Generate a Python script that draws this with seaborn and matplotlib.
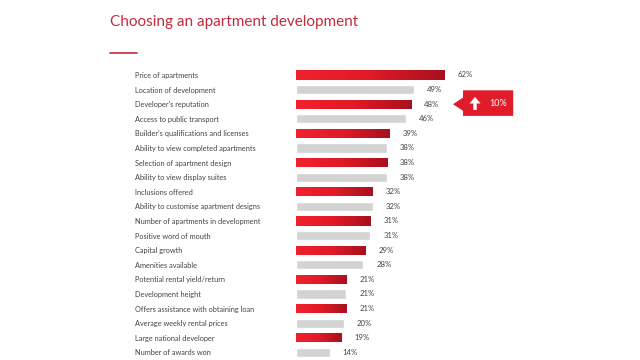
import numpy as np
import pandas as pd
import matplotlib
matplotlib.use("Agg")
import matplotlib.pyplot as plt
import seaborn as sns
from matplotlib.colors import LinearSegmentedColormap
from matplotlib.patches import Polygon

# -----------------------------
# DATA
# -----------------------------
factors = [
    "Price of apartments",
    "Location of development",
    "Developer's reputation",
    "Access to public transport",
    "Builder's qualifications and licenses",
    "Ability to view completed apartments",
    "Selection of apartment design",
    "Ability to view display suites",
    "Inclusions offered",
    "Ability to customise apartment designs",
    "Number of apartments in development",
    "Positive word of mouth",
    "Capital growth",
    "Amenities available",
    "Potential rental yield/return",
    "Development height",
    "Offers assistance with obtaining loan",
    "Average weekly rental prices",
    "Large national developer",
    "Number of awards won",
]
shares = [62, 49, 48, 46, 39, 38, 38, 38, 32, 32, 31, 31, 29, 28, 21, 21, 21, 20, 19, 14]
callout_row = "Developer's reputation"
callout_text = "10%"

RED = "#e41b27"
GREY = "#d3d3d3"
TEXT = "#444444"
TITLE = "#c42a3c"

df = pd.DataFrame({"factor": factors, "share": shares})
df["tone"] = ["red" if i % 2 == 0 else "grey" for i in range(len(df))]

sns.set_theme(style="white")
plt.rcParams["font.family"] = ["Lato", "DejaVu Sans"]

fig = plt.figure(figsize=(6.4, 3.6), dpi=100)
ax = fig.add_axes([296 / 640, 1 - 359.7 / 360, 240 / 640, 292 / 360])

sns.barplot(
    data=df, x="share", y="factor", hue="tone",
    palette={"red": RED, "grey": GREY},
    dodge=False, width=0.62, legend=False, ax=ax,
    orient="h", saturation=1,
)

# gradient on the red bars
grad = LinearSegmentedColormap.from_list("g", ["#f2212c", "#e01a26", "#a8101e"])
gvals = np.linspace(0, 1, 256).reshape(1, -1)
for patch in ax.patches:
    if patch.get_width() <= 0:
        continue
    fc = patch.get_facecolor()
    if fc[0] > 0.8 and fc[1] < 0.3:
        x0, y0 = patch.get_x(), patch.get_y()
        w, h = patch.get_width(), patch.get_height()
        im = ax.imshow(gvals, cmap=grad, aspect="auto",
                       extent=(x0, x0 + w, y0 + h, y0), zorder=3)
        im.set_clip_path(patch)

ax.set_xlim(0, 100)
ax.set_ylim(len(df) - 0.5, -0.5)

# value labels
for i, v in enumerate(shares):
    ax.text(v + 5.4, i, f"{v}%", va="center", ha="left",
            fontsize=5.6, color=TEXT)

ax.set_xlabel("")
ax.set_ylabel("")
ax.set_xticks([])
ax.tick_params(axis="y", length=0, pad=116, labelsize=5.3, labelcolor=TEXT)
for lab in ax.get_yticklabels():
    lab.set_horizontalalignment("left")
for s in ax.spines.values():
    s.set_visible(False)

# callout
r = factors.index(callout_row)
box = Polygon([(65.4, r), (69.6, r - 0.45), (69.6, r - 0.95), (90.5, r - 0.95),
               (90.5, r + 0.8), (69.6, r + 0.8), (69.6, r + 0.45)],
              closed=True, facecolor="#e01b2a", edgecolor="none",
              clip_on=False, zorder=5)
ax.add_patch(box)
arrow = Polygon([(74.6, r - 0.5), (72.3, r - 0.05), (73.9, r - 0.05), (73.9, r + 0.4),
                 (75.3, r + 0.4), (75.3, r - 0.05), (76.9, r - 0.05)],
                closed=True, facecolor="white", edgecolor="none",
                clip_on=False, zorder=6)
ax.add_patch(arrow)
ax.text(80.5, r - 0.05, callout_text, color="white", fontsize=6.5,
        va="center", ha="left", zorder=7, clip_on=False)

# title and underline
fig.text(110 / 640, 1 - 26 / 360, "Choosing an apartment development",
         fontsize=11, color=TITLE, ha="left", va="baseline")
fig.add_artist(plt.Line2D([110 / 640, 137 / 640], [1 - 53 / 360, 1 - 53 / 360],
                          color=TITLE, lw=1.2))

fig.savefig("out.png", dpi=100)
